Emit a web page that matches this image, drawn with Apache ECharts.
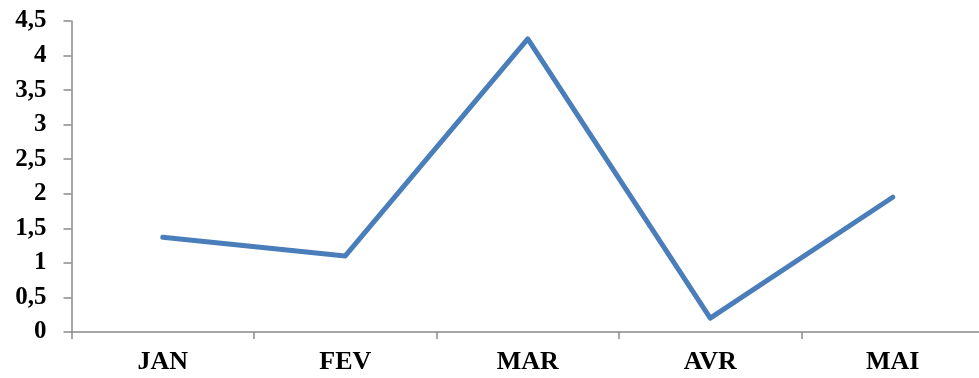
<!DOCTYPE html>
<html><head><meta charset="utf-8">
<script src="https://cdn.jsdelivr.net/npm/echarts@6/dist/echarts.min.js"></script>
<style>html,body{margin:0;padding:0;background:#fff;overflow:hidden;width:979px;height:378px}#c{width:984px;height:378px}</style>
</head><body><div id="c"></div>
<script>
var categories = ['JAN', 'FEV', 'MAR', 'AVR', 'MAI'];
var values = [1.37, 1.10, 4.24, 0.20, 1.95];
var yTicks = [0, 0.5, 1, 1.5, 2, 2.5, 3, 3.5, 4, 4.5];

var chart = echarts.init(document.getElementById('c'));
var font = '"Liberation Serif", "Times New Roman", serif';
chart.setOption({
  animation: false,
  grid: { left: 71.5, right: 0, top: 21, bottom: 46, containLabel: false },
  xAxis: {
    type: 'category', data: categories, boundaryGap: true,
    axisLine: { lineStyle: { color: '#8a8a8a', width: 1.5 } },
    axisTick: { show: true, length: 7, lineStyle: { color: '#8a8a8a', width: 1.5 } },
    axisLabel: { color: '#000', fontFamily: font, fontWeight: 'bold', fontSize: 26, margin: 17 },
    splitLine: { show: false }
  },
  yAxis: {
    type: 'value', min: yTicks[0], max: yTicks[yTicks.length - 1], interval: 0.5,
    axisLine: { show: true, lineStyle: { color: '#8a8a8a', width: 1.5 } },
    axisTick: { show: true, length: 8, lineStyle: { color: '#8a8a8a', width: 1.5 } },
    axisLabel: { color: '#000', fontFamily: font, fontWeight: 'bold', fontSize: 25, margin: 25,
      formatter: function (v) { return String(v).replace('.', ','); } },
    splitLine: { show: false }
  },
  series: [{
    type: 'line', data: values, symbol: 'none',
    lineStyle: { color: '#4a7ebb', width: 5, cap: 'round', join: 'round' }
  }]
});
</script></body></html>
